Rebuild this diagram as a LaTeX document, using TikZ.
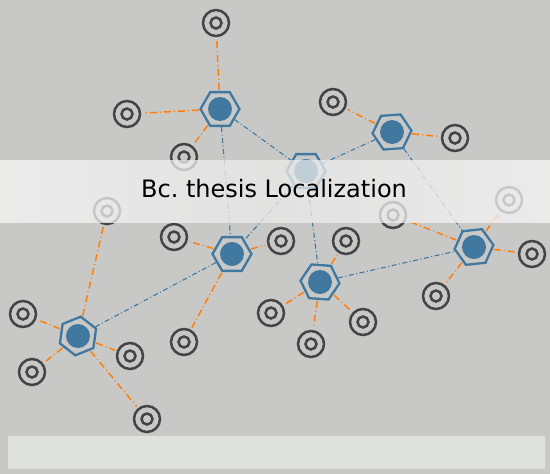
\documentclass[tikz,border=0pt]{standalone}
\usepackage{fontspec}
\setmainfont{DejaVu Sans}
\usepackage{tikz}
\usetikzlibrary{shapes}
\definecolor{bggray}{RGB}{200,201,199}
\definecolor{hubblue}{RGB}{64,120,160}
\definecolor{leadorange}{RGB}{255,127,14}
\definecolor{ringgray}{RGB}{68,68,70}
\definecolor{barlight}{RGB}{223,225,222}
\tikzset{hub/.style={regular polygon, regular polygon sides=6, draw=hubblue,
   line width=2.3pt, minimum size=39pt, inner sep=0pt,
   path picture={\fill[hubblue] (path picture bounding box.center) circle (12pt);}},
 ring/.style={circle, draw=ringgray, line width=2.5pt, minimum size=26pt, inner sep=0pt,
   path picture={\draw[ringgray, line width=2.5pt] (path picture bounding box.center) circle (5.5pt);}},
 link/.style={draw=hubblue, line width=1.1pt, dash pattern=on 5pt off 2.5pt on 1pt off 2.5pt},
 lead/.style={draw=leadorange, line width=1.5pt, dash pattern=on 7pt off 3pt on 1pt off 3pt,
   shorten <=1pt, shorten >=2pt},
 }

\begin{document}
\begin{tikzpicture}[x=1pt, y=-1pt]
        \fill[bggray] (0,0) rectangle (550,474);
        \useasboundingbox (0,0) rectangle (550,474);

        \node[hub] (h1) at (220,109) {};
        \node[hub, shape border rotate=4] (h2) at (392,132) {};
        \node[hub] (h3) at (306,171) {};
        \node[hub] (h4) at (232,254) {};
        \node[hub, shape border rotate=-4] (h5) at (320,282) {};
        \node[hub, shape border rotate=6] (h6) at (474,247) {};
        \node[hub, shape border rotate=22] (h7) at (78,336) {};

        \node[ring] (t1) at (216,23) {};
        \node[ring] (t2) at (127,114) {};
        \node[ring] (t3) at (184,157) {};
        \node[ring] (t4) at (107,211) {};
        \node[ring] (t5) at (333,102) {};
        \node[ring] (t6) at (455,138) {};
        \node[ring] (t7) at (393,215) {};
        \node[ring] (t8) at (509,200) {};
        \node[ring] (t9) at (174,237) {};
        \node[ring] (t10) at (281,241) {};
        \node[ring] (t11) at (346,241) {};
        \node[ring] (t12) at (184,342) {};
        \node[ring] (t13) at (23,314) {};
        \node[ring] (t14) at (32,372) {};
        \node[ring] (t15) at (130,356) {};
        \node[ring] (t16) at (147,419) {};
        \node[ring] (t17) at (271,313) {};
        \node[ring] (t18) at (311,344) {};
        \node[ring] (t19) at (363,322) {};
        \node[ring] (t20) at (436,296) {};
        \node[ring] (t21) at (532,254) {};

        \draw[link] (h1) -- (h3);
        \draw[link] (h1) -- (h4);
        \draw[link] (h2) -- (h3);
        \draw[link] (h2) -- (h6);
        \draw[link] (h3) -- (h4);
        \draw[link] (h3) -- (h5);
        \draw[link] (h4) -- (h7);
        \draw[link] (h5) -- (h6);

        \draw[lead] (h1) -- (t1);
        \draw[lead] (h1) -- (t2);
        \draw[lead] (h1) -- (t3);
        \draw[lead] (h2) -- (t5);
        \draw[lead] (h2) -- (t6);
        \draw[lead] (h4) -- (t9);
        \draw[lead] (h4) -- (t10);
        \draw[lead] (h4) -- (t12);
        \draw[lead] (h5) -- (t11);
        \draw[lead] (h5) -- (t17);
        \draw[lead] (h5) -- (t18);
        \draw[lead] (h5) -- (t19);
        \draw[lead] (h6) -- (t7);
        \draw[lead] (h6) -- (t8);
        \draw[lead] (h6) -- (t20);
        \draw[lead] (h6) -- (t21);
        \draw[lead] (h7) -- (t4);
        \draw[lead] (h7) -- (t13);
        \draw[lead] (h7) -- (t14);
        \draw[lead] (h7) -- (t15);
        \draw[lead] (h7) -- (t16);

        \shade[left color=white!97!black, right color=white!97!black,
          middle color=white!92!black, fill opacity=0.75] (0,160) rectangle (550,222);
        \node[anchor=base, font=\fontsize{24}{28}\selectfont] (title) at (274,197) {Bc.\ thesis Localization};

        \fill[barlight] (8,436) rectangle (545,469);
    \end{tikzpicture}
\end{document}
